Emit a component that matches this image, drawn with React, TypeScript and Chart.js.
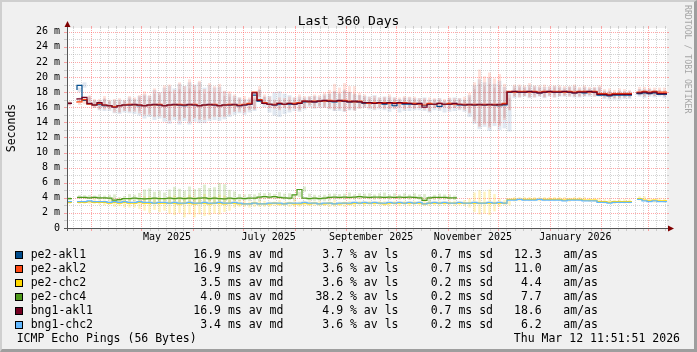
import React, { useEffect, useRef } from "react";
import { Chart, registerables } from "chart.js";

Chart.register(...registerables);

// ---------------- data ----------------
const startUtc = Date.UTC(2025, 2, 17, 11, 51, 51); // 360 days before Thu Mar 12 11:51:51 2026
const rangeDays = 360;
const stepDays = 3;
const yMax = 26.5;

const yTicks = [0, 2, 4, 6, 8, 10, 12, 14, 16, 18, 20, 22, 24, 26];
const xTickLabels = ["May 2025", "July 2025", "September 2025", "November 2025", "January 2026"];
const xTickMonths: [number, number][] = [[2025, 5], [2025, 7], [2025, 9], [2025, 11], [2026, 1]];
const gridMonths: [number, number][] = [
  [2025, 3], [2025, 4], [2025, 5], [2025, 6], [2025, 7], [2025, 8], [2025, 9],
  [2025, 10], [2025, 11], [2025, 12], [2026, 1], [2026, 2], [2026, 3],
];
const minorDaysOfMonth = [6, 11, 16, 21, 26];

type V = number | null;

// medians (ms), one value per 3 days
const pe2Akl1: V[] = [
  16.5, null, 18.3, 18.9, 16.9, 16.4, 16.3, 16.4, 16.2, 16.2,
  16.1, 16.2, 16.3, 16.3, 16.3, 16.2, 16.2, 16.3, 16.3, 16.3,
  16.2, 16.3, 16.3, 16.3, 16.2, 16.3, 16.3, 16.2, 16.3, 16.3,
  16.3, 16.2, 16.3, 16.3, 16.3, 16.2, 16.3, 16.4, 17.6, 16.8,
  16.5, 16.4, 16.3, 16.4, 16.4, 16.4, 16.4, 16.5, 16.7, 16.7,
  16.7, 16.8, 16.8, 16.8, 16.7, 16.8, 16.8, 16.7, 16.7, 16.7,
  16.5, 16.5, 16.5, 16.5, 16.4, 16.5, 16.2, 16.5, 16.4, 16.4,
  16.4, 16.4, 16.2, 16.4, 16.4, 16.1, 16.4, 16.4, 16.4, 16.3,
  16.3, 16.3, 16.3, 16.3, 16.3, 16.3, 16.3, 16.2, 16.3, 18.0,
  18.0, 18.0, 18.0, 18.0, 18.0, 17.9, 18.0, 18.0, 18.0, 18.0,
  18.0, 18.0, 17.9, 18.0, 17.9, 18.0, 18.0, 17.6, 17.6, 17.5,
  17.6, 17.6, 17.6, null, 17.9, 17.8, 17.9, 17.8, 17.9, 17.7,
];
const pe2Akl2: V[] = [
  16.5, null, 16.6, 16.7, 17.0, 16.4, 16.3, 16.5, 16.3, 16.2,
  16.1, 16.2, 16.3, 16.4, 16.3, 16.3, 16.2, 16.3, 16.3, 16.4,
  16.2, 16.3, 16.3, 16.4, 16.3, 16.3, 16.4, 16.2, 16.3, 16.3,
  16.4, 16.2, 16.3, 16.4, 16.3, 16.3, 16.4, 16.5, 18.0, 17.0,
  16.6, 16.4, 16.4, 16.5, 16.4, 16.5, 16.5, 16.6, 16.8, 16.7,
  16.8, 16.8, 16.8, 16.9, 16.8, 16.8, 16.9, 16.8, 16.7, 16.8,
  16.6, 16.5, 16.6, 16.5, 16.6, 16.5, 16.6, 16.5, 16.6, 16.5,
  16.5, 16.4, 16.3, 16.5, 16.4, 16.5, 16.4, 16.5, 16.4, 16.4,
  16.4, 16.3, 16.4, 16.3, 16.4, 16.3, 16.4, 16.3, 16.5, 18.1,
  18.0, 18.1, 18.1, 18.0, 18.1, 18.0, 18.1, 18.0, 18.1, 18.1,
  18.0, 18.1, 18.0, 18.1, 18.1, 18.0, 18.1, 17.8, 17.8, 17.7,
  17.8, 17.8, 17.8, null, 18.1, 18.0, 18.1, 18.0, 18.1, 18.0,
];
const pe2Chc2: V[] = [
  3.4, null, 3.4, 3.4, 3.4, 3.5, 3.4, 3.4, 3.4, 3.3,
  3.4, 3.3, 3.4, 3.3, 3.3, 3.4, 3.3, 3.3, 3.3, 3.3,
  3.3, 3.3, 3.3, 3.2, 3.3, 3.3, 3.2, 3.3, 3.3, 3.2,
  3.3, 3.3, 3.2, 3.3, 3.3, 3.2, 3.2, 3.2, 3.3, 3.2,
  3.2, 3.2, 3.3, 3.2, 3.2, 3.3, 3.2, 3.2, 3.3, 3.2,
  3.3, 3.2, 3.2, 3.3, 3.2, 3.2, 3.3, 3.2, 3.3, 3.3,
  3.3, 3.3, 3.3, 3.3, 3.2, 3.3, 3.3, 3.3, 3.3, 3.3,
  3.3, 3.3, 3.2, 3.3, 3.3, 3.3, 3.3, 3.3, 3.3, 3.3,
  3.3, 3.3, 3.3, 3.3, 3.3, 3.3, 3.3, 3.3, 3.3, 3.8,
  3.8, 3.8, 3.8, 3.8, 3.8, 3.8, 3.8, 3.8, 3.8, 3.8,
  3.7, 3.8, 3.8, 3.8, 3.7, 3.7, 3.7, 3.5, 3.5, 3.4,
  3.5, 3.5, 3.5, null, 3.9, 3.9, 3.7, 3.6, 3.7, 3.6,
];
const pe2Chc4: V[] = [
  3.9, null, 4.05, 4.05, 4.05, 4.0, 4.05, 4.0, 4.0, 3.95,
  3.7, 3.75, 3.9, 3.9, 3.95, 3.9, 3.85, 3.9, 3.95, 3.9,
  3.9, 3.95, 3.9, 3.95, 3.9, 3.95, 3.9, 3.95, 4.0, 3.9,
  3.95, 3.9, 3.85, 3.95, 3.9, 3.95, 3.9, 3.95, 3.95, 4.1,
  4.15, 4.1, 4.15, 4.05, 4.0, 3.95, 4.4, 5.1, 3.95, 3.9,
  3.95, 3.9, 3.95, 4.05, 4.1, 4.05, 4.1, 4.05, 4.1, 4.15,
  4.1, 4.05, 4.1, 4.1, 4.05, 4.1, 4.05, 4.1, 4.05, 4.1,
  4.05, 4.0, 3.65, 4.0, 4.05, 4.05, 4.05, 4.0, null, null,
  null, null, null, null, null, null, null, null, null, null,
  null, null, null, null, null, null, null, null, null, null,
  null, null, null, null, null, null, null, null, null, null,
  null, null, null, null, null, null, null, null, null, null,
];
const bng1Akl1: V[] = [
  16.5, null, 17.0, 17.1, 17.3, 16.5, 16.3, 16.6, 16.3, 16.2,
  16.0, 16.2, 16.3, 16.3, 16.4, 16.3, 16.2, 16.3, 16.4, 16.3,
  16.2, 16.3, 16.4, 16.3, 16.3, 16.4, 16.3, 16.2, 16.3, 16.4,
  16.3, 16.2, 16.3, 16.3, 16.4, 16.2, 16.3, 16.4, 17.9, 16.9,
  16.5, 16.4, 16.3, 16.5, 16.4, 16.5, 16.4, 16.5, 16.8, 16.8,
  16.7, 16.8, 16.9, 16.8, 16.8, 16.9, 16.8, 16.7, 16.8, 16.7,
  16.6, 16.6, 16.5, 16.6, 16.5, 16.6, 16.5, 16.6, 16.5, 16.5,
  16.4, 16.5, 16.0, 16.4, 16.4, 16.5, 16.4, 16.4, 16.5, 16.4,
  16.3, 16.4, 16.3, 16.4, 16.3, 16.4, 16.3, 16.4, 16.4, 18.0,
  18.1, 18.0, 18.0, 18.1, 18.0, 17.9, 18.0, 18.1, 18.0, 18.0,
  18.1, 18.0, 17.9, 18.0, 18.0, 18.1, 18.0, 17.7, 17.7, 17.6,
  17.7, 17.7, 17.7, null, 18.0, 17.9, 18.0, 17.9, 18.0, 17.8,
];
const bng1Chc2: V[] = [
  3.5, null, 3.5, 3.5, 3.5, 3.6, 3.5, 3.5, 3.5, 3.4,
  3.5, 3.4, 3.5, 3.4, 3.4, 3.5, 3.4, 3.4, 3.3, 3.4,
  3.4, 3.3, 3.4, 3.3, 3.3, 3.4, 3.3, 3.3, 3.4, 3.3,
  3.3, 3.4, 3.3, 3.3, 3.4, 3.3, 3.2, 3.2, 3.3, 3.2,
  3.2, 3.3, 3.3, 3.3, 3.2, 3.3, 3.3, 3.3, 3.4, 3.3,
  3.3, 3.2, 3.3, 3.3, 3.2, 3.3, 3.3, 3.3, 3.4, 3.3,
  3.4, 3.3, 3.4, 3.3, 3.3, 3.4, 3.3, 3.4, 3.3, 3.4,
  3.3, 3.4, 3.2, 3.3, 3.4, 3.3, 3.4, 3.3, 3.3, 3.4,
  3.3, 3.3, 3.4, 3.3, 3.3, 3.4, 3.3, 3.4, 3.3, 3.7,
  3.7, 3.8, 3.7, 3.7, 3.7, 3.8, 3.7, 3.7, 3.7, 3.7,
  3.6, 3.7, 3.7, 3.7, 3.6, 3.6, 3.6, 3.4, 3.4, 3.3,
  3.4, 3.4, 3.4, null, 3.8, 3.8, 3.6, 3.5, 3.6, 3.5,
];

// smoke extents above / below the median (ms)
const akl2SmokeUp = [
  0.3, 0, 0.4, 0.5, 0.5, 0.7, 0.8, 1.0, 0.7, 0.9,
  1.1, 0.8, 1.2, 0.9, 1.3, 1.8, 1.4, 2.2, 1.6, 2.5,
  2.8, 2.0, 3.0, 2.4, 3.4, 2.6, 3.1, 2.2, 2.9, 2.5,
  2.7, 2.0, 1.8, 1.3, 1.0, 1.2, 0.9, 1.0, 0.8, 0.7,
  0.8, 0.6, 0.9, 0.7, 1.0, 0.8, 1.2, 0.9, 0.7, 1.0,
  0.8, 1.1, 1.5, 2.2, 1.8, 2.4, 1.9, 2.0, 1.2, 0.9,
  0.8, 1.0, 0.7, 0.9, 1.1, 0.8, 0.7, 1.0, 0.8, 0.9,
  0.7, 0.8, 1.0, 0.7, 0.8, 0.6, 0.9, 0.7, 0.8, 1.0,
  1.5, 3.0, 4.6, 3.8, 4.2, 3.5, 4.0, 2.8, 1.2, 0.9,
  1.0, 0.8, 1.1, 0.9, 0.8, 1.0, 0.7, 0.9, 0.8, 0.7,
  0.8, 0.9, 0.7, 0.8, 0.6, 0.7, 0.8, 0.6, 0.7, 0.6,
  0.7, 0.6, 0.5, 0, 0.6, 0.7, 0.5, 0.6, 0.5, 0.6,
];
const akl2SmokeDown = [
  0.3, 0, 0.3, 0.3, 0.3, 0.5, 0.6, 0.8, 0.6, 0.9,
  0.8, 0.7, 0.9, 1.0, 1.1, 1.4, 1.2, 1.6, 1.5, 1.8,
  2.0, 1.6, 2.1, 1.8, 2.2, 1.7, 2.0, 1.9, 1.8, 1.6,
  1.7, 1.5, 1.3, 1.0, 0.9, 1.0, 0.8, 0.8, 0.6, 0.7,
  0.7, 0.6, 0.8, 0.6, 0.8, 0.7, 0.9, 0.7, 0.6, 0.8,
  0.7, 0.8, 1.0, 1.2, 1.0, 1.3, 1.1, 1.2, 0.9, 0.7,
  0.7, 0.8, 0.6, 0.7, 0.8, 0.7, 0.6, 0.8, 0.7, 0.7,
  0.6, 0.7, 0.8, 0.6, 0.7, 0.5, 0.7, 0.6, 0.7, 0.8,
  1.2, 2.2, 3.0, 2.6, 3.1, 2.4, 2.9, 2.0, 0.9, 0.7,
  0.7, 0.6, 0.8, 0.7, 0.6, 0.7, 0.6, 0.7, 0.6, 0.6,
  0.6, 0.7, 0.6, 0.6, 0.5, 0.6, 0.6, 0.5, 0.6, 0.5,
  0.6, 0.5, 0.5, 0, 0.5, 0.6, 0.5, 0.5, 0.5, 0.5,
];
const akl1SmokeUp = [
  0.2, 0, 0.3, 0.4, 0.4, 0.5, 0.6, 0.7, 0.6, 0.8,
  0.9, 0.7, 1.0, 0.8, 1.2, 1.5, 1.3, 2.0, 1.7, 2.3,
  2.6, 2.2, 2.8, 2.5, 3.1, 2.7, 3.0, 2.4, 2.6, 2.3,
  2.4, 1.9, 1.5, 1.2, 1.0, 0.9, 0.8, 0.9, 0.7, 0.6,
  1.0, 1.6, 1.8, 1.4, 1.2, 0.9, 1.0, 0.8, 0.7, 0.8,
  0.7, 0.9, 1.0, 1.3, 1.1, 1.4, 1.2, 1.0, 0.9, 0.8,
  0.9, 1.1, 0.8, 0.9, 1.0, 0.8, 0.9, 0.8, 0.9, 0.8,
  0.8, 0.9, 0.8, 0.7, 0.8, 0.7, 0.8, 0.9, 0.8, 0.7,
  1.3, 2.6, 3.4, 3.0, 3.6, 2.8, 3.2, 2.5, 1.6, 0.8,
  0.8, 0.7, 0.9, 0.8, 0.7, 0.8, 0.7, 0.8, 0.7, 0.6,
  0.7, 0.8, 0.6, 0.7, 0.6, 0.6, 0.7, 0.6, 0.6, 0.5,
  0.6, 0.5, 0.5, 0, 0.5, 0.6, 0.5, 0.5, 0.4, 0.5,
];
const akl1SmokeDown = [
  0.2, 0, 0.3, 0.3, 0.3, 0.5, 0.7, 0.9, 0.7, 1.0,
  1.0, 0.9, 1.1, 1.2, 1.4, 1.7, 1.5, 2.0, 1.8, 2.2,
  2.4, 2.0, 2.6, 2.1, 2.5, 2.2, 2.4, 2.3, 2.1, 2.0,
  2.1, 1.8, 1.6, 1.3, 1.1, 1.2, 1.0, 0.9, 0.7, 0.8,
  1.2, 1.5, 1.6, 1.3, 1.1, 0.9, 1.0, 0.8, 0.7, 0.9,
  0.8, 0.9, 1.1, 1.3, 1.2, 1.4, 1.2, 1.1, 0.9, 0.8,
  0.8, 0.9, 0.8, 0.9, 1.0, 0.8, 0.9, 1.0, 0.9, 0.8,
  0.8, 0.9, 0.9, 0.8, 0.9, 0.8, 1.0, 0.9, 0.8, 0.9,
  1.6, 2.5, 3.2, 2.9, 3.4, 2.8, 3.3, 3.0, 3.5, 0.8,
  0.7, 0.6, 0.8, 0.7, 0.6, 0.7, 0.6, 0.7, 0.6, 0.6,
  0.6, 0.7, 0.6, 0.6, 0.5, 0.6, 0.6, 0.5, 0.6, 0.5,
  0.6, 0.5, 0.5, 0, 0.5, 0.6, 0.5, 0.5, 0.5, 0.5,
];
const bngAklSmoke = [
  0.2, 0, 0.3, 0.3, 0.3, 0.4, 0.5, 0.6, 0.5, 0.6,
  0.7, 0.6, 0.8, 0.7, 0.9, 1.2, 1.0, 1.5, 1.2, 1.7,
  1.9, 1.5, 2.0, 1.7, 2.2, 1.8, 2.0, 1.6, 1.8, 1.5,
  1.6, 1.3, 1.1, 0.9, 0.7, 0.8, 0.6, 0.7, 0.5, 0.5,
  0.5, 0.4, 0.6, 0.5, 0.6, 0.5, 0.7, 0.6, 0.5, 0.6,
  0.5, 0.7, 0.9, 1.3, 1.1, 1.5, 1.2, 1.2, 0.8, 0.6,
  0.5, 0.6, 0.5, 0.6, 0.7, 0.5, 0.5, 0.6, 0.5, 0.6,
  0.5, 0.5, 0.6, 0.5, 0.5, 0.4, 0.6, 0.5, 0.5, 0.6,
  1.0, 2.0, 2.8, 2.4, 2.8, 2.2, 2.6, 1.8, 0.8, 0.5,
  0.5, 0.5, 0.6, 0.5, 0.5, 0.5, 0.4, 0.5, 0.5, 0.4,
  0.5, 0.5, 0.4, 0.5, 0.4, 0.4, 0.5, 0.4, 0.4, 0.4,
  0.4, 0.4, 0.4, 0, 0.4, 0.4, 0.4, 0.4, 0.3, 0.4,
];
const chc4SmokeUp = [
  0.2, 0, 0.3, 0.3, 0.3, 0.3, 0.4, 0.3, 0.4, 0.5,
  0.4, 0.5, 0.6, 0.5, 0.7, 1.2, 1.4, 0.9, 1.0, 0.8,
  1.2, 1.5, 1.3, 1.0, 1.6, 1.2, 1.4, 1.8, 1.3, 1.5,
  2.0, 1.9, 1.2, 0.9, 0.6, 0.5, 0.6, 0.5, 0.7, 0.5,
  0.5, 0.4, 0.6, 0.5, 0.6, 0.5, 0.4, 0.4, 0.6, 0.5,
  0.4, 0.5, 0.6, 0.5, 0.4, 0.5, 0.6, 0.4, 0.5, 0.4,
  0.5, 0.4, 0.5, 0.6, 0.4, 0.5, 0.4, 0.5, 0.4, 0.5,
  0.4, 0.5, 0.6, 0.4, 0.5, 0.4, 0.4, 0.3, 0, 0,
  0, 0, 0, 0, 0, 0, 0, 0, 0, 0,
  0, 0, 0, 0, 0, 0, 0, 0, 0, 0,
  0, 0, 0, 0, 0, 0, 0, 0, 0, 0,
  0, 0, 0, 0, 0, 0, 0, 0, 0, 0,
];
const chc4SmokeDown = [
  0.2, 0, 0.2, 0.2, 0.2, 0.2, 0.3, 0.2, 0.3, 0.3,
  0.3, 0.3, 0.4, 0.3, 0.4, 0.5, 0.6, 0.5, 0.5, 0.4,
  0.6, 0.7, 0.6, 0.5, 0.7, 0.6, 0.6, 0.7, 0.5, 0.6,
  0.7, 0.6, 0.5, 0.4, 0.3, 0.3, 0.3, 0.3, 0.4, 0.3,
  0.3, 0.3, 0.3, 0.3, 0.3, 0.3, 0.3, 0.3, 0.3, 0.3,
  0.3, 0.3, 0.3, 0.3, 0.3, 0.3, 0.3, 0.3, 0.3, 0.3,
  0.3, 0.3, 0.3, 0.3, 0.3, 0.3, 0.3, 0.3, 0.3, 0.3,
  0.3, 0.3, 0.3, 0.3, 0.3, 0.3, 0.3, 0.3, 0, 0,
  0, 0, 0, 0, 0, 0, 0, 0, 0, 0,
  0, 0, 0, 0, 0, 0, 0, 0, 0, 0,
  0, 0, 0, 0, 0, 0, 0, 0, 0, 0,
  0, 0, 0, 0, 0, 0, 0, 0, 0, 0,
];
const chc2SmokeUp = [
  0.2, 0, 0.2, 0.2, 0.2, 0.3, 0.3, 0.3, 0.3, 0.4,
  0.4, 0.4, 0.5, 0.4, 0.5, 0.8, 0.9, 0.7, 0.8, 0.6,
  0.9, 1.0, 0.8, 0.9, 1.1, 0.8, 0.9, 1.2, 0.8, 1.0,
  1.1, 1.0, 0.7, 0.5, 0.4, 0.4, 0.3, 0.4, 0.3, 0.4,
  0.3, 0.3, 0.4, 0.3, 0.3, 0.4, 0.3, 0.4, 0.3, 0.3,
  0.3, 0.3, 0.3, 0.4, 0.3, 0.3, 0.3, 0.3, 0.3, 0.3,
  0.3, 0.3, 0.3, 0.3, 0.3, 0.3, 0.3, 0.3, 0.3, 0.3,
  0.3, 0.3, 0.3, 0.3, 0.3, 0.3, 0.3, 0.3, 0.3, 0.4,
  0.6, 1.4, 1.7, 1.5, 1.8, 1.2, 0.6, 0.4, 0.3, 0.3,
  0.3, 0.3, 0.3, 0.3, 0.3, 0.3, 0.3, 0.3, 0.3, 0.3,
  0.3, 0.3, 0.3, 0.3, 0.3, 0.3, 0.3, 0.3, 0.3, 0.3,
  0.3, 0.3, 0.3, 0, 0.3, 0.3, 0.3, 0.3, 0.3, 0.3,
];
const chc2SmokeDown = [
  0.2, 0, 0.2, 0.2, 0.2, 0.3, 0.3, 0.4, 0.3, 0.5,
  0.5, 0.6, 0.7, 0.6, 0.8, 1.1, 1.3, 0.9, 1.2, 1.0,
  1.4, 1.6, 1.3, 1.8, 1.5, 1.9, 1.4, 1.7, 1.6, 1.3,
  1.5, 1.2, 0.9, 0.6, 0.5, 0.4, 0.5, 0.4, 0.5, 0.4,
  0.4, 0.3, 0.4, 0.3, 0.4, 0.5, 0.4, 0.3, 0.4, 0.3,
  0.4, 0.3, 0.4, 0.5, 0.3, 0.4, 0.3, 0.4, 0.3, 0.4,
  0.3, 0.4, 0.3, 0.4, 0.3, 0.3, 0.4, 0.3, 0.4, 0.3,
  0.3, 0.4, 0.3, 0.3, 0.4, 0.3, 0.3, 0.4, 0.3, 0.4,
  0.6, 1.2, 1.5, 1.4, 1.6, 1.1, 0.5, 0.3, 0.3, 0.3,
  0.25, 0.25, 0.25, 0.25, 0.25, 0.25, 0.25, 0.25, 0.25, 0.25,
  0.25, 0.25, 0.25, 0.25, 0.25, 0.25, 0.25, 0.25, 0.25, 0.25,
  0.25, 0.25, 0.25, 0, 0.25, 0.25, 0.25, 0.25, 0.25, 0.25,
];

// legend table
const legendNames = ["pe2-akl1", "pe2-akl2", "pe2-chc2", "pe2-chc4", "bng1-akl1", "bng1-chc2"];
const legendColors = ["#004c8c", "#ff4a14", "#ffd800", "#4f9a1c", "#730022", "#62b8ff"];
const legendMedian = ["16.9", "16.9", "3.5", "4.0", "16.9", "3.4"];
const legendLoss = ["3.7", "3.6", "3.6", "38.2", "4.9", "3.6"];
const legendSd = ["0.7", "0.7", "0.2", "0.2", "0.7", "0.2"];
const legendAmAs = ["12.3", "11.0", "4.4", "7.7", "18.6", "6.2"];

// ---------------- helpers ----------------
const MONO = '"DejaVu Sans Mono", monospace';
const DAY_MS = 86400000;
const dayOf = (y: number, m: number, d: number) => (Date.UTC(y, m - 1, d) - startUtc) / DAY_MS;
const midMonth = (y: number, m: number) => (dayOf(y, m, 1) + dayOf(y, m + 1, 1)) / 2;
const xTickDays = xTickMonths.map(([y, m]) => midMonth(y, m));

function stepPoints(vals: V[]) {
  const pts: { x: number; y: number | null }[] = [];
  vals.forEach((v, i) => {
    const x = i * stepDays;
    if (v === null) {
      pts.push({ x, y: null });
      return;
    }
    pts.push({ x, y: v });
    const next = vals[i + 1];
    if (next === null || next === undefined) pts.push({ x: x + stepDays, y: v });
  });
  return pts;
}

function smokeBars(med: V[], up: number[], down: number[]) {
  const out: { x: number; y: [number, number] }[] = [];
  med.forEach((v, i) => {
    if (v === null) return;
    out.push({ x: i * stepDays + stepDays / 2, y: [v - down[i], v + up[i]] });
  });
  return out;
}

const lineDs = (label: string, vals: V[], color: string, order: number, width = 1) => ({
  type: "line" as const,
  label,
  data: stepPoints(vals),
  borderColor: color,
  backgroundColor: color,
  borderWidth: width,
  pointRadius: 0,
  stepped: "after" as const,
  spanGaps: false,
  fill: false,
  order,
});

const smokeDs = (label: string, data: any[], color: string, order: number, pct: number) => ({
  type: "bar" as const,
  label,
  data,
  backgroundColor: color,
  borderWidth: 0,
  grouped: false,
  barPercentage: pct,
  categoryPercentage: 1,
  order,
});

const rrdPlugin = {
  id: "rrdGrid",
  beforeDatasetsDraw(chart: any) {
    const { ctx, chartArea: a, scales } = chart;
    const xs = scales.x;
    const ys = scales.y;
    ctx.save();
    ctx.fillStyle = "#ffffff";
    ctx.fillRect(a.left, a.top, a.right - a.left, a.bottom - a.top);
    ctx.lineWidth = 1;
    const minorC = "rgba(150,150,150,0.42)";
    const majorC = "rgba(255,80,80,0.5)";
    const hline = (v: number, color: string) => {
      const y = Math.round(ys.getPixelForValue(v)) + 0.5;
      ctx.strokeStyle = color;
      ctx.setLineDash([1, 1]);
      ctx.beginPath();
      ctx.moveTo(a.left, y);
      ctx.lineTo(a.right, y);
      ctx.stroke();
      ctx.setLineDash([]);
      ctx.beginPath();
      ctx.moveTo(a.left - 3, y);
      ctx.lineTo(a.left, y);
      ctx.moveTo(a.right, y);
      ctx.lineTo(a.right + 2, y);
      ctx.stroke();
    };
    const vline = (d: number, color: string) => {
      if (d <= 0 || d >= rangeDays) return;
      const x = Math.round(xs.getPixelForValue(d)) + 0.5;
      ctx.strokeStyle = color;
      ctx.setLineDash([1, 1]);
      ctx.beginPath();
      ctx.moveTo(x, a.top);
      ctx.lineTo(x, a.bottom);
      ctx.stroke();
      ctx.setLineDash([]);
      ctx.beginPath();
      ctx.moveTo(x, a.bottom);
      ctx.lineTo(x, a.bottom + 3);
      ctx.moveTo(x, a.top - 2);
      ctx.lineTo(x, a.top);
      ctx.stroke();
    };
    for (let v = 1; v < yMax; v += 2) hline(v, minorC);
    yTicks.forEach((v) => {
      if (v > 0) hline(v, majorC);
    });
    gridMonths.forEach(([y, m]) => {
      minorDaysOfMonth.forEach((d) => vline(dayOf(y, m, d), minorC));
    });
    gridMonths.forEach(([y, m]) => vline(dayOf(y, m, 1), majorC));
    ctx.restore();
  },
  afterDatasetsDraw(chart: any) {
    const { ctx, chartArea: a } = chart;
    ctx.save();
    ctx.lineWidth = 1;
    ctx.strokeStyle = "#555555";
    const y0 = a.bottom + 0.5;
    const x0 = a.left + 0.5;
    ctx.beginPath();
    ctx.moveTo(a.left - 3, y0);
    ctx.lineTo(a.right + 3, y0);
    ctx.moveTo(x0, a.bottom + 3);
    ctx.lineTo(x0, a.top - 3);
    ctx.stroke();
    ctx.fillStyle = "#7f0000";
    ctx.beginPath();
    ctx.moveTo(a.right + 1, y0 - 3);
    ctx.lineTo(a.right + 7, y0);
    ctx.lineTo(a.right + 1, y0 + 3);
    ctx.closePath();
    ctx.fill();
    ctx.beginPath();
    ctx.moveTo(x0 - 3, a.top - 1);
    ctx.lineTo(x0, a.top - 7);
    ctx.lineTo(x0 + 3, a.top - 1);
    ctx.closePath();
    ctx.fill();
    ctx.restore();
  },
};

export default function App() {
  const ref = useRef<HTMLCanvasElement>(null);

  useEffect(() => {
    if (!ref.current) return;
    const datasets: any[] = [
      lineDs("bng1-chc2", bng1Chc2, legendColors[5], 1, 1.3),
      lineDs("bng1-akl1", bng1Akl1, legendColors[4], 2, 1.2),
      lineDs("pe2-chc4", pe2Chc4, legendColors[3], 3, 1.2),
      lineDs("pe2-chc2", pe2Chc2, legendColors[2], 4, 1.2),
      lineDs("pe2-akl2", pe2Akl2, legendColors[1], 5, 1.2),
      lineDs("pe2-akl1", pe2Akl1, legendColors[0], 6, 1.2),
      smokeDs("bng1-akl1 smoke", smokeBars(bng1Akl1, bngAklSmoke, bngAklSmoke), "rgba(120,30,50,0.12)", 10, 0.4),
      smokeDs("pe2-akl2 smoke", smokeBars(pe2Akl2, akl2SmokeUp, akl2SmokeDown), "rgba(255,110,80,0.2)", 11, 0.6),
      smokeDs("pe2-akl1 smoke", smokeBars(pe2Akl1, akl1SmokeUp, akl1SmokeDown), "rgba(70,110,170,0.16)", 12, 0.8),
      smokeDs("pe2-chc4 smoke", smokeBars(pe2Chc4, chc4SmokeUp, chc4SmokeDown), "rgba(110,170,40,0.22)", 13, 0.6),
      smokeDs("pe2-chc2 smoke", smokeBars(pe2Chc2, chc2SmokeUp, chc2SmokeDown), "rgba(255,215,40,0.3)", 14, 0.5),
    ];
    const chart = new Chart(ref.current, {
      type: "line",
      data: { datasets },
      plugins: [rrdPlugin],
      options: {
        responsive: false,
        animation: false,
        devicePixelRatio: 1,
        events: [],
        layout: { padding: { top: 28, right: 30, left: 0, bottom: 0 } },
        plugins: {
          legend: { display: false },
          tooltip: { enabled: false },
          title: { display: false },
        },
        scales: {
          x: {
            type: "linear",
            min: 0,
            max: rangeDays,
            offset: false,
            grid: { display: false, drawTicks: false },
            border: { display: false },
            afterBuildTicks: (axis: any) => {
              axis.ticks = xTickDays.map((v) => ({ value: v }));
            },
            afterFit: (axis: any) => {
              axis.height = 124;
            },
            ticks: {
              autoSkip: false,
              maxRotation: 0,
              minRotation: 0,
              padding: 3,
              color: "#000",
              font: { family: MONO, size: 10 },
              callback: (_v: any, i: number) => xTickLabels[i],
            },
          },
          y: {
            type: "linear",
            min: 0,
            max: yMax,
            grid: { display: false, drawTicks: false },
            border: { display: false },
            afterBuildTicks: (axis: any) => {
              axis.ticks = yTicks.map((v) => ({ value: v }));
            },
            afterFit: (axis: any) => {
              axis.width = 67;
            },
            ticks: {
              padding: 7,
              color: "#000",
              font: { family: MONO, size: 10 },
              callback: (v: any) => (Number(v) === 0 ? "0" : `${v} m`),
            },
          },
        },
      } as any,
    });
    return () => chart.destroy();
  }, []);

  const txt: React.CSSProperties = {
    position: "absolute",
    fontFamily: MONO,
    fontSize: 11.5,
    lineHeight: "14px",
    color: "#000",
    whiteSpace: "pre",
  };

  return (
    <div
      style={{
        position: "absolute",
        left: 0,
        top: 0,
        width: 697,
        height: 352,
        background: "#f0f0f0",
        overflow: "hidden",
      }}
    >
      <div
        style={{
          position: "absolute",
          left: 0,
          top: 0,
          width: 697,
          height: 352,
          boxSizing: "border-box",
          borderTop: "2px solid #cfcfcf",
          borderLeft: "2px solid #cfcfcf",
          borderRight: "3px solid #9e9e9e",
          borderBottom: "3px solid #9e9e9e",
        }}
      />
      <canvas ref={ref} width={697} height={352} style={{ position: "absolute", left: 0, top: 0 }} />
      <div
        style={{
          ...txt,
          fontSize: 13,
          lineHeight: "16px",
          left: 0,
          top: 12.5,
          width: 697,
          textAlign: "center",
        }}
      >
        Last 360 Days
      </div>
      <div
        style={{
          ...txt,
          left: 11,
          top: 128,
          transform: "translate(-50%, -50%) rotate(-90deg)",
        }}
      >
        Seconds
      </div>
      <div
        style={{
          ...txt,
          fontSize: 8.2,
          lineHeight: "10px",
          color: "#a5a5a5",
          left: 683,
          top: 5,
          writingMode: "vertical-rl",
        }}
      >
        RRDTOOL / TOBI OETIKER
      </div>
      {legendNames.map((name, k) => {
        const top = 246.7 + 14 * k;
        return (
          <React.Fragment key={name}>
            <div
              style={{
                position: "absolute",
                left: 15,
                top: 250.5 + 14 * k,
                width: 8,
                height: 8,
                boxSizing: "border-box",
                border: "1px solid #000",
                background: legendColors[k],
              }}
            />
            <div style={{ ...txt, left: 30.7, top }}>{name}</div>
            <div style={{ ...txt, right: 697 - 283.3, top }}>{`${legendMedian[k]} ms av md`}</div>
            <div style={{ ...txt, right: 697 - 398.5, top }}>{`${legendLoss[k]} % av ls`}</div>
            <div style={{ ...txt, right: 697 - 493, top }}>{`${legendSd[k]} ms sd`}</div>
            <div style={{ ...txt, right: 697 - 541.7, top }}>{legendAmAs[k]}</div>
            <div style={{ ...txt, left: 563.3, top }}>am/as</div>
          </React.Fragment>
        );
      })}
      <div style={{ ...txt, left: 16.7, top: 330.7 }}>ICMP Echo Pings (56 Bytes)</div>
      <div style={{ ...txt, right: 697 - 680, top: 330.7 }}>Thu Mar 12 11:51:51 2026</div>
    </div>
  );
}
